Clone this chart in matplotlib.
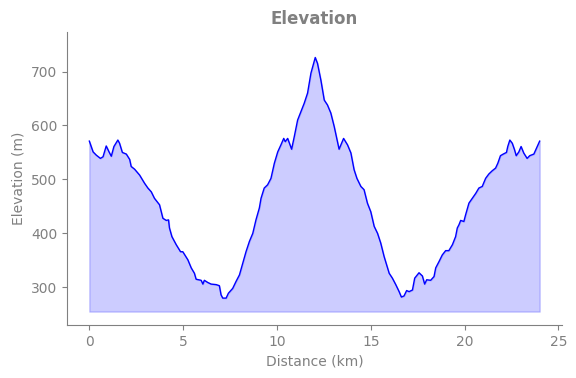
import matplotlib
matplotlib.use("Agg")
import matplotlib.pyplot as plt

# distance (km) and elevation (m)
distance = [0.0, 0.2, 0.37, 0.59, 0.73, 0.9, 1.05, 1.17, 1.31, 1.52, 1.61, 1.76, 1.97,
            2.15, 2.23, 2.41, 2.68, 2.94, 3.12, 3.3, 3.47, 3.74, 3.92, 4.1, 4.22, 4.27,
            4.4, 4.63, 4.86, 4.98, 5.25, 5.43, 5.6, 5.69, 5.96, 6.05, 6.13, 6.31, 6.49,
            6.76, 6.93, 7.02, 7.11, 7.29, 7.41, 7.64, 7.82, 8.0, 8.18, 8.35, 8.53, 8.71,
            8.88, 9.06, 9.15, 9.32, 9.5, 9.68, 9.86, 10.04, 10.21, 10.36, 10.44, 10.57,
            10.78, 10.92, 11.1, 11.28, 11.45, 11.63, 11.81, 12.04, 12.16, 12.34, 12.52,
            12.69, 12.87, 13.05, 13.31, 13.55, 13.76, 13.94, 14.11, 14.26, 14.47, 14.64,
            14.82, 15.0, 15.18, 15.36, 15.53, 15.71, 15.98, 16.15, 16.33, 16.51, 16.63,
            16.77, 16.91, 17.04, 17.22, 17.34, 17.57, 17.75, 17.87, 17.98, 18.19, 18.37,
            18.46, 18.64, 18.81, 18.99, 19.16, 19.35, 19.52, 19.61, 19.7, 19.79, 19.96,
            20.05, 20.23, 20.41, 20.59, 20.76, 20.94, 21.12, 21.29, 21.47, 21.65, 21.77,
            21.91, 22.06, 22.23, 22.3, 22.41, 22.54, 22.66, 22.75, 22.89, 23.01, 23.15,
            23.33, 23.47, 23.69, 23.83, 24.0]
elevation = [571, 551, 545, 539, 542, 562, 551, 543, 561, 573, 567, 550, 547,
             537, 524, 519, 508, 493, 484, 477, 465, 453, 428, 424, 425, 410,
             394, 379, 366, 366, 351, 336, 326, 315, 313, 306, 313, 309, 306,
             305, 303, 286, 280, 280, 289, 298, 311, 323, 345, 366, 385, 400,
             425, 447, 465, 484, 490, 502, 530, 551, 564, 576, 570, 576,
             556, 579, 610, 626, 641, 660, 697, 726, 715, 684, 647,
             638, 623, 598, 556, 576, 564, 549, 518, 502, 487, 481,
             456, 440, 413, 400, 382, 357, 326, 317, 305, 292, 282,
             284, 294, 292, 295, 317, 327, 321, 306, 314, 313, 320,
             336, 348, 360, 368, 368, 379, 394, 410, 416, 424, 422,
             434, 456, 465, 474, 484, 487, 502, 510, 516, 521, 530,
             544, 547, 550, 561, 573, 567, 555, 544, 551, 561, 549,
             539, 544, 547, 558, 571]
base = 255

gray = "#808080"

fig, ax = plt.subplots(figsize=(5.76, 3.78), dpi=100)
fig.subplots_adjust(left=0.116, right=0.976, bottom=0.14, top=0.915)

ax.plot(distance, elevation, color="blue", linewidth=1)
ax.fill_between(distance, elevation, base, color="blue", alpha=0.2)

ax.set_ylim(230, 773)
ax.set_xticks([0, 5, 10, 15, 20, 25])
ax.set_yticks([300, 400, 500, 600, 700])

ax.set_title("Elevation", color=gray, fontweight="bold", fontsize=12)
ax.set_xlabel("Distance (km)", color=gray)
ax.set_ylabel("Elevation (m)", color=gray)

ax.spines["top"].set_visible(False)
ax.spines["right"].set_visible(False)
ax.spines["left"].set_color(gray)
ax.spines["bottom"].set_color(gray)
ax.tick_params(colors=gray)

fig.savefig("out.png")
